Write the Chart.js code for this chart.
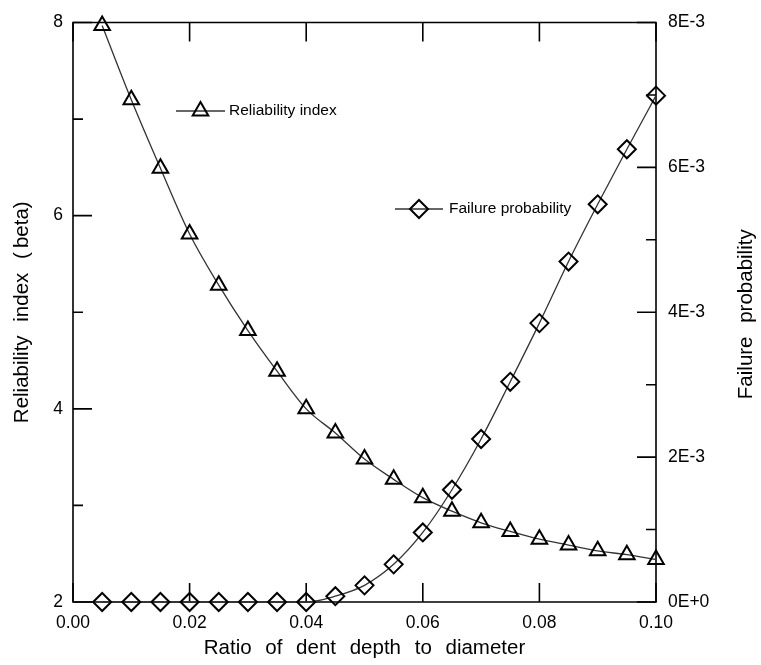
<!DOCTYPE html>
<html>
<head>
<meta charset="utf-8">
<script src="https://cdn.jsdelivr.net/npm/chart.js@4.4.1/dist/chart.umd.min.js"></script>
<style>
  html, body { margin: 0; padding: 0; background: #ffffff; }
  #wrap { width: 761px; height: 665px; position: relative; }
</style>
</head>
<body>
<div id="wrap"><canvas id="c" width="761" height="665"></canvas></div>
<script>
// ---- data ----
const ratios = [0.005, 0.010, 0.015, 0.020, 0.025, 0.030, 0.035, 0.040, 0.045, 0.050,
                0.055, 0.060, 0.065, 0.070, 0.075, 0.080, 0.085, 0.090, 0.095, 0.100];
const reliabilityIndex = [7.97, 7.20, 6.49, 5.81, 5.28, 4.81, 4.39, 4.00, 3.75, 3.48,
                          3.27, 3.08, 2.94, 2.82, 2.73, 2.65, 2.59, 2.53, 2.49, 2.44];
const failureProbability = [0, 0, 0, 0, 0, 0, 0, 0, 0.00008, 0.00023,
                            0.00052, 0.00096, 0.00155, 0.00225, 0.00304, 0.00385, 0.00470, 0.00549, 0.00625, 0.00699];
const xTicks = [0.00, 0.02, 0.04, 0.06, 0.08, 0.10];
const leftTicks = [2, 4, 6, 8];
const leftMinorTicks = [3, 5, 7];
const rightTicks = [0, 0.002, 0.004, 0.006, 0.008];
const rightMinorTicks = [0.001, 0.003, 0.005, 0.007];
const seriesNames = ['Reliability index', 'Failure probability'];
const axisTitles = { x: 'Ratio of dent depth to diameter', y: 'Reliability index (\u2009beta)', y1: 'Failure probability' };

const FONT = "'Liberation Sans', Arial, Helvetica, sans-serif";

function fmtRight(v) {
  const n = Math.round(v * 1000);
  return n === 0 ? '0E+0' : n + 'E-3';
}

const framePlugin = {
  id: 'frame',
  beforeDraw(chart) {
    chart.ctx.wordSpacing = '8px';
  },
  beforeDatasetsDraw(chart) {
    const ctx = chart.ctx;
    const a = chart.chartArea;
    const sx = chart.scales.x, sy = chart.scales.y, sy1 = chart.scales.y1;
    ctx.save();
    // right axis title (reads bottom-to-top)
    ctx.fillStyle = '#000';
    ctx.font = '20.5px ' + FONT;
    ctx.textAlign = 'center';
    ctx.textBaseline = 'middle';
    ctx.translate(746, (a.top + a.bottom) / 2 + 2);
    ctx.rotate(-Math.PI / 2);
    ctx.fillText(axisTitles.y1, 0, 0);
    ctx.restore();
    ctx.wordSpacing = '0px';

    ctx.save();
    ctx.strokeStyle = '#000';
    ctx.lineWidth = 1.6;
    ctx.beginPath();
    ctx.rect(a.left, a.top, a.right - a.left, a.bottom - a.top);
    ctx.stroke();
    const MAJ = 19, MIN = 10;
    ctx.beginPath();
    xTicks.forEach(v => {
      const px = sx.getPixelForValue(v);
      ctx.moveTo(px, a.bottom); ctx.lineTo(px, a.bottom - MAJ);
      ctx.moveTo(px, a.top); ctx.lineTo(px, a.top + MAJ);
    });
    leftTicks.forEach(v => {
      const py = sy.getPixelForValue(v);
      ctx.moveTo(a.left, py); ctx.lineTo(a.left + MAJ, py);
    });
    leftMinorTicks.forEach(v => {
      const py = sy.getPixelForValue(v);
      ctx.moveTo(a.left, py); ctx.lineTo(a.left + MIN, py);
    });
    rightTicks.forEach(v => {
      const py = sy1.getPixelForValue(v);
      ctx.moveTo(a.right, py); ctx.lineTo(a.right - MAJ, py);
    });
    rightMinorTicks.forEach(v => {
      const py = sy1.getPixelForValue(v);
      ctx.moveTo(a.right, py); ctx.lineTo(a.right - MIN, py);
    });
    ctx.stroke();
    ctx.restore();
  },
  afterDraw(chart) {
    const ctx = chart.ctx;
    ctx.save();
    ctx.wordSpacing = '0px';
    const items = [
      { ds: chart.data.datasets[0], x1: 176, x2: 225, y: 111, tx: 229 },
      { ds: chart.data.datasets[1], x1: 395, x2: 443, y: 209, tx: 449 }
    ];
    items.forEach(it => {
      ctx.strokeStyle = '#333';
      ctx.lineWidth = 1.3;
      ctx.beginPath();
      ctx.moveTo(it.x1, it.y); ctx.lineTo(it.x2, it.y);
      ctx.stroke();
      ctx.strokeStyle = '#000';
      ctx.fillStyle = 'rgba(0,0,0,0)';
      ctx.lineWidth = it.ds.pointBorderWidth;
      Chart.helpers.drawPoint(ctx, {
        pointStyle: it.ds.pointStyle, radius: it.ds.pointRadius, rotation: 0, borderWidth: it.ds.pointBorderWidth
      }, (it.x1 + it.x2) / 2, it.y);
      ctx.fillStyle = '#000';
      ctx.font = '15.5px ' + FONT;
      ctx.textBaseline = 'middle';
      ctx.textAlign = 'left';
      ctx.fillText(it.ds.label, it.tx, it.y);
    });
    ctx.restore();
  }
};

new Chart(document.getElementById('c'), {
  type: 'line',
  data: {
    datasets: [
      {
        label: seriesNames[0],
        data: ratios.map((x, i) => ({ x: x, y: reliabilityIndex[i] })),
        yAxisID: 'y',
        borderColor: '#333',
        borderWidth: 1.3,
        cubicInterpolationMode: 'monotone',
        pointStyle: 'triangle',
        pointRadius: 9,
        pointBorderWidth: 2,
        pointBorderColor: '#000',
        pointBackgroundColor: 'rgba(0,0,0,0)',
        clip: false
      },
      {
        label: seriesNames[1],
        data: ratios.map((x, i) => ({ x: x, y: failureProbability[i] })),
        yAxisID: 'y1',
        borderColor: '#333',
        borderWidth: 1.3,
        cubicInterpolationMode: 'monotone',
        pointStyle: 'rectRot',
        pointRadius: 9,
        pointBorderWidth: 2,
        pointBorderColor: '#000',
        pointBackgroundColor: 'rgba(0,0,0,0)',
        clip: false
      }
    ]
  },
  options: {
    responsive: false,
    animation: false,
    devicePixelRatio: 1,
    layout: { padding: { top: 18, left: 0, right: 0, bottom: 0 } },
    plugins: { legend: { display: false }, tooltip: { enabled: false } },
    scales: {
      x: {
        type: 'linear',
        min: 0, max: 0.1,
        afterFit(s) { s.height = 63; },
        afterBuildTicks(s) { s.ticks = xTicks.map(v => ({ value: v })); },
        grid: { display: false, drawTicks: false },
        border: { display: false },
        ticks: {
          color: '#000', padding: 11, maxRotation: 0,
          font: { family: FONT, size: 17.5 },
          callback: v => Number(v).toFixed(2)
        },
        title: {
          display: true, text: axisTitles.x, color: '#000',
          font: { family: FONT, size: 20.5 }, padding: { top: 0, bottom: 4 }
        }
      },
      y: {
        type: 'linear', position: 'left',
        min: 2, max: 8,
        afterFit(s) { s.width = 73; },
        afterBuildTicks(s) { s.ticks = leftTicks.map(v => ({ value: v })); },
        grid: { display: false, drawTicks: false },
        border: { display: false },
        ticks: {
          color: '#000', padding: 10,
          font: { family: FONT, size: 17.5 },
          callback: v => String(v)
        },
        title: {
          display: true, text: axisTitles.y, color: '#000',
          font: { family: FONT, size: 20.5 }, padding: { top: 10, bottom: 0 }
        }
      },
      y1: {
        type: 'linear', position: 'right',
        min: 0, max: 0.008,
        afterFit(s) { s.width = 105; },
        afterBuildTicks(s) { s.ticks = rightTicks.map(v => ({ value: v })); },
        grid: { display: false, drawTicks: false },
        border: { display: false },
        ticks: {
          color: '#000', padding: 12,
          font: { family: FONT, size: 17.5 },
          callback: v => fmtRight(v)
        },
        title: { display: false }
      }
    }
  },
  plugins: [framePlugin]
});
</script>
</body>
</html>
